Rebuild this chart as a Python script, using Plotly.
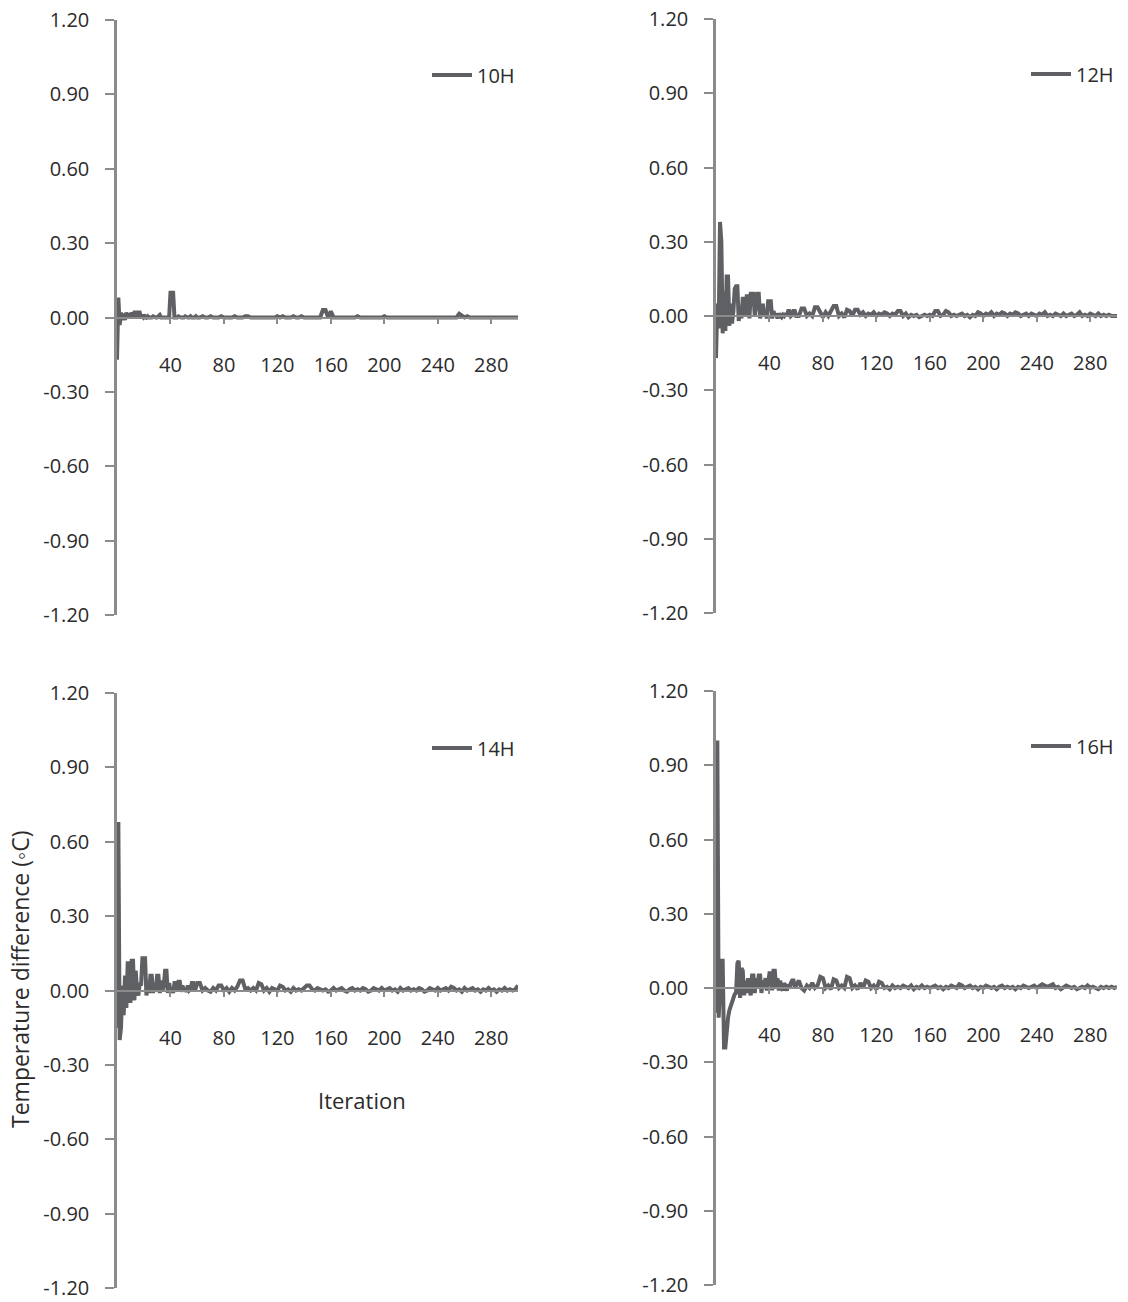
import plotly.graph_objects as go

# ---------------- data ----------------
panel_names = ["10H", "12H", "14H", "16H"]
x_ticks = [40, 80, 120, 160, 200, 240, 280]
y_ticks = [-1.2, -0.9, -0.6, -0.3, 0.0, 0.3, 0.6, 0.9, 1.2]
y_tick_text = ["-1.20", "-0.90", "-0.60", "-0.30", "0.00", "0.30", "0.60", "0.90", "1.20"]

# iterations 0..60 (every iteration) and 62..300 (every second iteration)
head_iter = list(range(0, 61))
tail_iter = list(range(62, 301, 2))

head_10H = [-0.17, 0.08, -0.03, 0.02, -0.01, 0.015, -0.01, 0.02, 0.0, 0.015,
            0.0, 0.02, 0.005, 0.02, 0.02, 0.0, 0.02, 0.02, 0.0, 0.01,
            0.0, 0.005, 0.0, 0.005, 0.0, 0.0, 0.0, 0.005, 0.0, 0.0,
            0.0, 0.005, 0.01, 0.0, 0.0, 0.0, 0.0, 0.0, 0.0, 0.0,
            0.10, 0.10, 0.10, 0.0, 0.0, 0.0, 0.005, 0.0, 0.0, 0.0,
            0.0, 0.005, 0.0, 0.0, 0.0, 0.005, 0.0, 0.0, 0.0, 0.005,
            0.0]
tail_10H = [0.0, 0.005, 0.0, 0.0, 0.005, 0.0, 0.0, 0.0, 0.005, 0.0,
            0.0, 0.0, 0.0, 0.005, 0.0, 0.0, 0.0, 0.005, 0.005, 0.0,
            0.0, 0.0, 0.0, 0.0, 0.0, 0.0, 0.0, 0.0, 0.0, 0.005,
            0.0, 0.005, 0.0, 0.0, 0.0, 0.005, 0.0, 0.0, 0.005, 0.0,
            0.0, 0.0, 0.0, 0.0, 0.0, 0.0, 0.03, 0.03, 0.0, 0.025,
            0.0, 0.0, 0.0, 0.0, 0.0, 0.0, 0.0, 0.0, 0.0, 0.005,
            0.0, 0.0, 0.0, 0.0, 0.0, 0.0, 0.0, 0.0, 0.0, 0.005,
            0.0, 0.0, 0.0, 0.0, 0.0, 0.0, 0.0, 0.0, 0.0, 0.0,
            0.0, 0.0, 0.0, 0.0, 0.0, 0.0, 0.0, 0.0, 0.0, 0.0,
            0.0, 0.0, 0.0, 0.0, 0.0, 0.0, 0.0, 0.015, 0.005, 0.0,
            0.005, 0.0, 0.0, 0.0, 0.0, 0.0, 0.0, 0.0, 0.0, 0.0,
            0.0, 0.0, 0.0, 0.0, 0.0, 0.0, 0.0, 0.0, 0.0, 0.0]

head_12H = [-0.17, 0.05, -0.05, 0.38, 0.30, -0.07, 0.10, -0.06, 0.16, 0.16,
            -0.04, 0.05, -0.03, 0.02, 0.11, 0.12, 0.12, -0.02, 0.03, -0.01,
            0.07, 0.07, 0.0, 0.08, 0.08, -0.01, 0.09, 0.09, 0.09, 0.0,
            0.05, 0.09, 0.09, -0.01, 0.02, 0.05, 0.0, 0.02, -0.01, 0.06,
            0.06, 0.06, -0.01, 0.02, 0.0, 0.01, -0.01, 0.01, 0.0, -0.005,
            0.005, 0.0, 0.01, 0.0, 0.02, 0.02, 0.0, 0.005, 0.02, 0.02,
            0.0]
tail_12H = [0.0, 0.03, 0.03, 0.0, 0.01, 0.0, 0.035, 0.035, 0.01, -0.005,
            0.015, 0.0, 0.02, 0.04, 0.04, 0.0, 0.01, -0.005, 0.025, 0.02,
            0.0, 0.025, 0.025, 0.005, 0.015, 0.0, 0.01, 0.005, 0.015, 0.0,
            0.01, 0.005, 0.015, 0.01, 0.0, 0.01, 0.005, 0.02, 0.02, 0.0,
            0.01, -0.005, 0.005, 0.0, 0.005, -0.005, 0.0, 0.005, 0.0, 0.005,
            0.0, 0.02, 0.02, 0.0, 0.005, 0.02, 0.015, 0.0, 0.005, 0.0,
            0.005, 0.01, 0.0, 0.005, -0.005, 0.005, 0.0, 0.015, 0.01, 0.0,
            0.01, 0.005, 0.015, 0.0, 0.01, 0.005, 0.015, 0.01, 0.0, 0.01,
            0.005, 0.015, 0.01, 0.0, 0.005, 0.01, 0.0, 0.01, 0.005, 0.0,
            0.01, 0.005, 0.015, 0.0, 0.005, 0.0, 0.01, 0.005, 0.0, 0.01,
            0.0, 0.005, 0.01, 0.0, 0.005, 0.015, 0.0, 0.005, 0.0, 0.01,
            0.005, 0.0, 0.01, 0.0, 0.005, 0.0, 0.005, 0.0, 0.0, 0.0]

head_14H = [-0.15, 0.68, -0.20, -0.15, 0.02, -0.10, 0.06, -0.07, 0.11, 0.11,
            -0.05, 0.12, 0.12, -0.04, 0.08, 0.0, -0.02, 0.03, 0.02, 0.13,
            0.13, 0.13, -0.02, 0.02, -0.01, 0.06, 0.06, -0.01, 0.03, 0.0,
            0.06, 0.06, -0.01, 0.04, 0.0, 0.02, 0.08, 0.08, -0.01, 0.03,
            0.0, 0.01, -0.01, 0.03, 0.03, 0.0, 0.035, 0.035, -0.005, 0.02,
            0.0, 0.01, -0.005, 0.02, 0.0, 0.005, 0.03, 0.03, 0.0, 0.01,
            0.03]
tail_14H = [0.03, 0.0, 0.01, 0.0, -0.005, 0.01, 0.0, 0.02, 0.02, 0.0,
            0.01, -0.005, 0.01, 0.0, 0.015, 0.04, 0.04, 0.005, 0.01, 0.0,
            0.01, 0.0, 0.03, 0.025, 0.0, 0.01, -0.005, 0.01, 0.005, 0.0,
            0.02, 0.015, 0.0, 0.005, -0.005, 0.01, 0.0, 0.005, 0.0, 0.01,
            0.02, 0.02, 0.005, 0.0, 0.01, 0.005, 0.0, 0.005, -0.005, 0.0,
            0.01, 0.0, 0.005, 0.01, 0.0, -0.005, 0.005, 0.01, 0.0, 0.005,
            0.0, 0.01, 0.005, -0.005, 0.0, 0.01, 0.005, 0.0, 0.01, 0.0,
            0.005, 0.01, 0.0, 0.005, -0.005, 0.01, 0.0, 0.005, 0.01, 0.0,
            0.005, 0.0, 0.01, 0.005, -0.005, 0.0, 0.01, 0.005, 0.0, 0.01,
            0.0, 0.005, 0.01, 0.0, 0.015, 0.01, 0.0, 0.005, -0.005, 0.01,
            0.0, 0.005, 0.01, 0.0, 0.005, -0.005, 0.005, 0.0, 0.01, 0.0,
            0.005, -0.005, 0.005, 0.0, 0.01, 0.0, 0.005, 0.0, 0.005, 0.02]

head_16H = [-0.10, 1.00, -0.12, -0.03, 0.11, 0.11, -0.24, -0.24, -0.15, -0.12,
            -0.09, -0.07, -0.05, -0.035, -0.025, -0.02, 0.10, 0.11, -0.04, 0.08,
            0.07, -0.03, 0.03, -0.02, 0.04, 0.0, -0.03, 0.05, 0.05, -0.02,
            0.04, 0.0, 0.05, 0.05, -0.02, 0.03, 0.0, 0.04, -0.01, 0.02,
            0.06, 0.06, -0.01, 0.07, 0.07, 0.0, 0.04, -0.01, 0.03, 0.0,
            -0.01, 0.02, 0.0, -0.01, 0.015, 0.0, 0.02, 0.03, 0.03, 0.0,
            0.01]
tail_16H = [0.03, 0.0, -0.01, 0.01, 0.0, 0.02, 0.0, 0.01, 0.045, 0.04,
            0.0, 0.01, -0.005, 0.035, 0.03, 0.0, 0.01, 0.0, 0.045, 0.04,
            0.0, 0.01, -0.005, 0.02, 0.0, 0.03, 0.025, 0.0, 0.01, -0.005,
            0.025, 0.02, 0.0, 0.005, -0.005, 0.01, 0.0, 0.005, 0.0, 0.01,
            0.005, 0.0, 0.01, -0.005, 0.005, 0.0, 0.01, 0.0, 0.005, 0.0,
            0.005, 0.01, 0.0, 0.005, -0.005, 0.005, 0.0, 0.01, 0.005, 0.0,
            0.015, 0.01, 0.0, 0.005, 0.01, 0.0, 0.005, -0.005, 0.005, 0.0,
            0.01, 0.005, 0.0, 0.005, -0.005, 0.005, 0.01, 0.0, 0.005, 0.0,
            0.005, -0.005, 0.005, 0.0, 0.01, 0.005, 0.0, 0.005, 0.01, 0.0,
            0.01, 0.015, 0.01, 0.005, 0.01, 0.015, 0.0, 0.005, -0.005, 0.005,
            0.01, 0.005, 0.0, 0.005, -0.005, 0.0, 0.005, 0.0, 0.01, 0.0,
            0.005, 0.0, -0.005, 0.005, 0.0, 0.005, 0.0, 0.005, 0.0, 0.005]

heads = [head_10H, head_12H, head_14H, head_16H]
tails = [tail_10H, tail_12H, tail_14H, tail_16H]
for h, t in zip(heads, tails):
    assert len(h) == len(head_iter) and len(t) == len(tail_iter), (len(h), len(t))

# ---------------- layout geometry (pixels) ----------------
W, H = 1128, 1302
# (axis x-left, plot x-right, y-top(1.20), y-bottom(-1.20))
boxes = [(117, 518, 20, 615), (716, 1117, 19, 613), (117, 518, 693, 1288), (716, 1117, 691, 1285)]

LINE = "#5f6064"
AXIS = "#8b8b8b"
TEXT = "#2b2b2b"
FONT = "Open Sans"
FS = 20

fig = go.Figure()
layout = dict(width=W, height=H, margin=dict(l=0, r=0, t=0, b=0, pad=0), autosize=False,
              paper_bgcolor="white", plot_bgcolor="white",
              font=dict(family=FONT, size=FS, color=TEXT), showlegend=True)

for i, (name, h, t, box) in enumerate(zip(panel_names, heads, tails, boxes)):
    k = "" if i == 0 else str(i + 1)
    xl, xr, yt, yb = box
    leg = "legend" if i == 0 else f"legend{i+1}"
    fig.add_trace(go.Scatter(x=head_iter + tail_iter, y=h + t, mode="lines", name=name,
                             line=dict(color=LINE, width=4),
                             xaxis="x" + k, yaxis="y" + k, legend=leg))
    ydom = [1 - yb / H, 1 - yt / H]
    zero_pos = 1 - ((yt + yb) / 2) / H
    layout["xaxis" + k] = dict(domain=[xl / W, xr / W], range=[0, 300], anchor="free",
                               position=zero_pos, showgrid=False, zeroline=False,
                               automargin=False,
                               showline=True, linecolor=AXIS, linewidth=2,
                               ticks="outside", ticklen=5, tickwidth=2, tickcolor=AXIS,
                               tickvals=x_ticks, ticklabelstandoff=24,
                               tickfont=dict(size=FS, color=TEXT))
    layout["yaxis" + k] = dict(domain=ydom, range=[-1.2, 1.2], anchor="x" + k,
                               showgrid=False, zeroline=False, automargin=False,
                               showline=True, linecolor=AXIS, linewidth=2.5,
                               ticks="outside", ticklen=9, tickwidth=2, tickcolor=AXIS,
                               tickvals=y_ticks, ticktext=y_tick_text, ticklabelstandoff=12,
                               tickfont=dict(size=FS, color=TEXT))
    layout[leg] = dict(x=(xr - 91) / W, y=1 - (yt + 55) / H, xanchor="left", yanchor="middle",
                       bgcolor="rgba(0,0,0,0)", font=dict(size=FS, color=TEXT),
                       itemwidth=40, tracegroupgap=0)

fig.update_layout(**layout)

fig.add_annotation(text="Temperature difference (◦C)", xref="paper", yref="paper",
                   x=20 / W, y=1 - 980 / H, xanchor="center", yanchor="middle",
                   textangle=-90, showarrow=False,
                   font=dict(size=23, color=TEXT))
fig.add_annotation(text="Iteration", xref="x3", yref="y3", x=183, y=-0.44,
                   showarrow=False, font=dict(size=22, color=TEXT))

fig.write_html("out.html", config={"displayModeBar": False},
               post_script="document.body.style.margin='0';")
